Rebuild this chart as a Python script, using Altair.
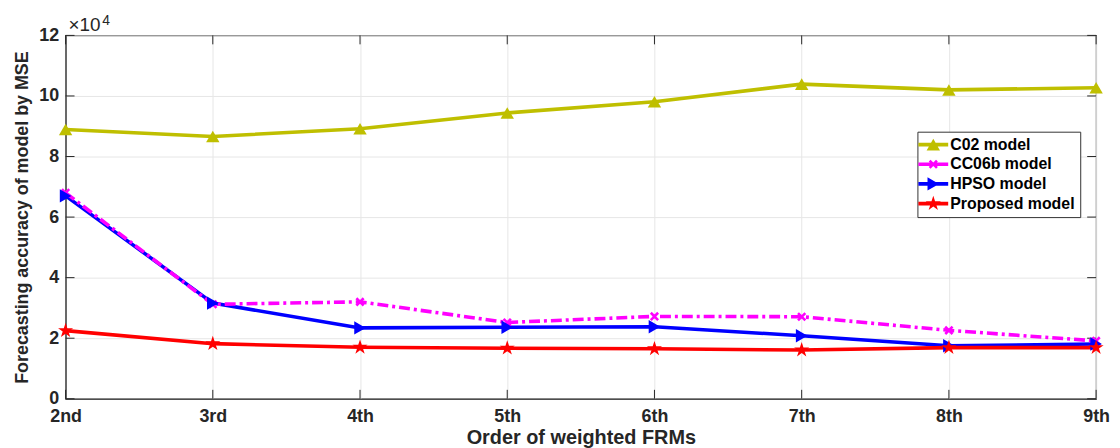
import altair as alt
import pandas as pd

orders = ["2nd", "3rd", "4th", "5th", "6th", "7th", "8th", "9th"]
models = ["C02 model", "CC06b model", "HPSO model", "Proposed model"]
c02 = [88900, 86600, 89200, 94400, 98100, 103900, 102000, 102700]
cc06b = [68000, 31200, 32000, 25200, 27200, 27100, 22600, 19100]
hpso = [67000, 31600, 23400, 23600, 23800, 20800, 17500, 18100]
proposed = [22500, 18200, 17000, 16700, 16500, 16100, 16900, 16900]
y_ticks = [0, 20000, 40000, 60000, 80000, 100000, 120000]

colors = ["#bfbf00", "#ff00ff", "#0000ff", "#ff0000"]

# marker paths (units = sqrt(size)/2 px)
tri_up = "M0,-0.95L1.1,0.95L-1.1,0.95Z"
xmark = "M-0.75,-0.45L-0.45,-0.75L0,-0.3L0.45,-0.75L0.75,-0.45L0.3,0L0.75,0.45L0.45,0.75L0,0.3L-0.45,0.75L-0.75,0.45L-0.3,0Z"
tri_right = "M0.95,0L-0.95,1.1L-0.95,-1.1Z"
star = "M0,-1.3L0.292,-0.402L1.236,-0.402L0.472,0.153L0.764,1.052L0,0.497L-0.764,1.052L-0.472,0.153L-1.236,-0.402L-0.292,-0.402Z"
shapes = [tri_up, xmark, tri_right, star]
seg = "M-2.45,-0.3L2.45,-0.3L2.45,0.3L-2.45,0.3Z"
leg_shapes = [seg + s for s in shapes]

rows = []
for m, vals in zip(models, [c02, cc06b, hpso, proposed]):
    for o, v in zip(orders, vals):
        rows.append({"order": o, "model": m, "value": v})
df = pd.DataFrame(rows)
tick_df = pd.DataFrame({"value": y_ticks})
xtick_df = pd.DataFrame({"order": orders})

W, H = 1038, 366
font = "Liberation Sans"
dark = "#262626"
MS = 150

x = alt.X("order:N", sort=orders, scale=alt.Scale(type="point", padding=0),
          axis=alt.Axis(title="Order of weighted FRMs", labelAngle=0, grid=True,
                        ticks=False, labelPadding=9, titlePadding=2, titleFontSize=20))
y = alt.Y("value:Q", scale=alt.Scale(domain=[0, 120000], nice=False),
          axis=alt.Axis(title="Forecasting accuracy of model by MSE", values=y_ticks,
                        labelExpr="datum.value / 10000", grid=True, ticks=False,
                        labelPadding=7, titlePadding=7, titleFontSize=18))
cscale = alt.Scale(domain=models, range=colors)
color = alt.Color("model:N", scale=cscale)

solid = alt.Chart(df).transform_filter("datum.model !== 'CC06b model'").mark_line(strokeWidth=3.6).encode(
    x=x, y=y, color=color)
dashed = alt.Chart(df).transform_filter("datum.model === 'CC06b model'").mark_line(
    strokeWidth=3.6, strokeDash=[11, 4, 3, 4]).encode(x=x, y=y, color=color)

shape_cond = {
    "condition": [{"test": f"datum.model === '{m}'", "value": s} for m, s in zip(models[:-1], shapes[:-1])],
    "value": shapes[-1],
}
points = alt.Chart(df).mark_point(filled=True, opacity=1, size=MS, strokeWidth=0).encode(
    x=x, y=y, color=color, shape=shape_cond)

leg = alt.Chart(df).mark_point(filled=True, opacity=0, size=MS, strokeWidth=0).encode(
    x=x, y=y,
    color=alt.Color("model:N", scale=cscale,
                    legend=alt.Legend(title=None, orient="none", legendX=858, legendY=97,
                                      symbolOpacity=1)),
    shape=alt.Shape("model:N", scale=alt.Scale(domain=models, range=leg_shapes),
                    legend=alt.Legend(title=None, orient="none", legendX=858, legendY=97,
                                      symbolOpacity=1)),
)

left_ticks = alt.Chart(tick_df).mark_rule(color=dark, strokeWidth=1).encode(
    y=y, x=alt.value(0), x2=alt.value(9))
right_ticks = alt.Chart(tick_df).mark_rule(color=dark, strokeWidth=1).encode(
    y=y, x=alt.value(W - 9), x2=alt.value(W))
bottom_ticks = alt.Chart(xtick_df).mark_rule(color=dark, strokeWidth=1).encode(
    x=x, y=alt.value(H - 9), y2=alt.value(H))
top_ticks = alt.Chart(xtick_df).mark_rule(color=dark, strokeWidth=1).encode(
    x=x, y=alt.value(0), y2=alt.value(9))

mult = alt.Chart(pd.DataFrame({"t": ["×10"]})).mark_text(
    font=font, fontSize=19, color=dark, align="left", baseline="alphabetic"
).encode(text="t:N", x=alt.value(3), y=alt.value(-4))
expo = alt.Chart(pd.DataFrame({"t": ["4"]})).mark_text(
    font=font, fontSize=14, color=dark, align="left", baseline="alphabetic"
).encode(text="t:N", x=alt.value(37), y=alt.value(-10))

chart = alt.layer(left_ticks, right_ticks, bottom_ticks, top_ticks, solid, dashed, points, leg, mult, expo).properties(
    width=W, height=H, padding={"left": 5, "top": 5, "right": 0, "bottom": 0},
).configure_view(stroke=dark, strokeWidth=1.2).configure_axis(
    labelFont=font, titleFont=font, labelFontSize=18, labelFontWeight="bold",
    titleFontWeight="bold", labelColor=dark, titleColor=dark, domainColor=dark,
    gridColor="#e6e6e6", gridWidth=1,
).configure_legend(
    labelFont=font, labelFontSize=16, labelFontWeight="bold", labelColor="#000000",
    fillColor="white", strokeColor="#333333", padding=5, rowPadding=3.8, symbolSize=MS,
    symbolOffset=3, labelOffset=9, labelLimit=300, symbolStrokeWidth=0,
)

chart.save("out.html", embed_options={"renderer": "svg", "actions": False})
